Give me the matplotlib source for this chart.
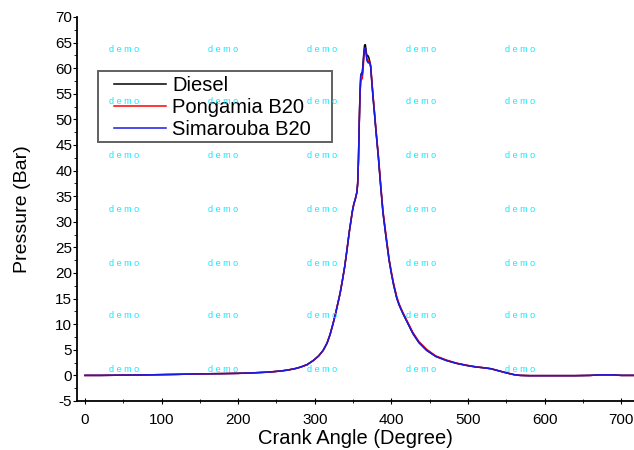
import matplotlib
matplotlib.use("Agg")
import matplotlib.pyplot as plt
from matplotlib.patches import Rectangle
from matplotlib.ticker import MultipleLocator

plt.rcParams['font.family'] = ['Liberation Sans', 'DejaVu Sans']
plt.rcParams['axes.unicode_minus'] = False

# Crank angle (degree) samples shared by all three fuels
crank_angle = [0, 20, 50, 80, 100, 120, 150, 180, 200, 220, 240, 255, 265, 275,
               281, 290, 298, 305, 311, 316, 320, 324, 327, 330, 333, 336, 339,
               342, 345, 347, 349, 351, 353, 355, 356, 357, 358, 359, 360, 361,
               362, 363, 364, 365, 366, 367, 368, 369, 370, 371, 372, 373, 374,
               376, 378, 380, 383, 386, 389, 393, 397, 400, 403, 407, 410, 415,
               420, 428, 436, 446, 458, 472, 485, 498, 510, 520, 530, 540, 550,
               560, 568, 580, 600, 640, 660, 670, 690, 700, 720]

# Cylinder pressure (bar)
diesel = [0.0, 0.0, 0.05, 0.1, 0.15, 0.2, 0.3, 0.35, 0.4, 0.5, 0.65, 0.85, 1.05, 1.35,
          1.6, 2.1, 2.9, 3.8, 4.9, 6.3, 8.0, 10.2, 12.0, 14.0, 16.0, 18.5, 21.2,
          24.5, 28.0, 30.0, 32.0, 33.5, 34.5, 35.8, 37.5, 42.0, 49.0, 55.0, 58.5, 59.0,
          59.2, 61.0, 63.0, 64.5, 64.6, 63.5, 62.3, 62.5, 62.3, 61.8, 61.2, 60.2, 58.2,
          54.4, 51.0, 47.5, 42.6, 37.0, 31.8, 27.0, 22.5, 19.9, 17.6, 15.1, 13.8, 12.1,
          10.6, 8.2, 6.4, 4.9, 3.7, 2.9, 2.35, 1.95, 1.65, 1.5, 1.3, 0.9, 0.5,
          0.15, 0.0, -0.05, -0.05, -0.05, 0.0, 0.1, 0.1, 0.0, 0.0]

pongamia = [0.0, 0.0, 0.05, 0.1, 0.15, 0.2, 0.3, 0.35, 0.4, 0.5, 0.65, 0.85, 1.05, 1.35,
            1.6, 2.1, 2.9, 3.8, 4.9, 6.3, 8.0, 10.2, 12.0, 14.0, 16.0, 18.5, 21.2,
            24.5, 28.0, 30.0, 32.0, 33.5, 34.5, 35.8, 37.5, 42.0, 49.0, 54.5, 57.5, 57.8,
            58.0, 59.5, 62.0, 63.5, 63.8, 63.0, 62.0, 61.5, 61.3, 61.4, 61.2, 60.5, 58.5,
            54.8, 51.4, 47.9, 43.0, 37.4, 32.2, 27.4, 22.8, 20.2, 17.9, 15.4, 14.0, 12.3,
            10.8, 8.4, 6.6, 5.1, 3.8, 3.0, 2.4, 2.0, 1.7, 1.5, 1.3, 0.9, 0.5,
            0.15, 0.0, -0.05, -0.05, -0.05, 0.0, 0.1, 0.1, 0.0, 0.0]

simarouba = [0.0, 0.0, 0.05, 0.1, 0.15, 0.2, 0.3, 0.35, 0.4, 0.5, 0.65, 0.85, 1.05, 1.35,
             1.6, 2.1, 2.9, 3.8, 4.9, 6.3, 8.0, 10.2, 12.0, 14.0, 16.0, 18.5, 21.2,
             24.5, 28.0, 30.0, 32.0, 33.5, 34.5, 35.8, 37.5, 42.0, 49.0, 55.0, 58.5, 59.0,
             58.8, 60.5, 62.5, 63.8, 64.0, 62.8, 61.5, 61.2, 61.0, 61.2, 61.0, 60.2, 58.2,
             54.4, 51.0, 47.5, 42.6, 37.0, 31.8, 27.0, 22.5, 19.9, 17.6, 15.1, 13.8, 12.1,
             10.6, 8.2, 6.4, 4.9, 3.7, 2.9, 2.35, 1.95, 1.65, 1.5, 1.3, 0.9, 0.5,
             0.15, 0.0, -0.05, -0.05, -0.05, 0.0, 0.1, 0.1, 0.0, 0.0]

series_names = ["Diesel", "Pongamia B20", "Simarouba B20"]
series_colors = ["black", "red", "#1a1ae6"]

x_ticks = [0, 100, 200, 300, 400, 500, 600, 700]
y_ticks = [-5, 0, 5, 10, 15, 20, 25, 30, 35, 40, 45, 50, 55, 60, 65, 70]

fig = plt.figure(figsize=(6.34, 4.5), dpi=100)
W, H = 634, 450
ax = fig.add_axes([77 / W, 49 / H, (W - 77) / W, 384 / H])

for values, name, color in zip([diesel, pongamia, simarouba], series_names, series_colors):
    ax.plot(crank_angle, values, color=color, lw=1.1, label=name)

ax.set_xlim(-10.4, 716.7)
ax.set_ylim(-5, 70)
ax.set_xticks(x_ticks)
ax.set_yticks(y_ticks)
ax.xaxis.set_minor_locator(MultipleLocator(50))
ax.yaxis.set_minor_locator(MultipleLocator(2.5))

for side in ("top", "right"):
    ax.spines[side].set_visible(False)
for side in ("left", "bottom"):
    ax.spines[side].set_linewidth(1.3)

ax.tick_params(axis="x", which="major", direction="inout", length=4, width=0.8,
               labelsize=11, pad=7)
ax.tick_params(axis="x", which="minor", direction="inout", length=3, width=0.6)
ax.tick_params(axis="y", which="major", direction="out", length=3, width=0.8,
               labelsize=11, pad=0.5)
ax.tick_params(axis="y", which="minor", direction="out", length=2, width=0.6)

ax.set_xlabel("Crank Angle (Degree)", fontsize=14.5, labelpad=1)
ax.set_ylabel("Pressure (Bar)", fontsize=14)
ax.yaxis.set_label_coords(-0.083, 0.5)

# Legend frame drawn as its own rectangle so the box size can be set exactly
box_x0, box_x1 = (97.7 - 77) / 557, (331.7 - 77) / 557
box_y0, box_y1 = (401 - 141.7) / 384, (401 - 71) / 384
ax.add_patch(Rectangle((box_x0, box_y0), box_x1 - box_x0, box_y1 - box_y0,
                       transform=ax.transAxes, facecolor="white",
                       edgecolor="#606060", lw=1.4, zorder=4))
leg = ax.legend(loc="upper left", bbox_to_anchor=((114 - 77) / 557, (401 - 76) / 384),
                frameon=False, fontsize=14.5, borderpad=0, borderaxespad=0,
                handlelength=2.6, handletextpad=0.3, labelspacing=0.16)
leg.set_zorder(5)

# Repeating "demo" marks across the figure
for yc in [49, 102, 155, 210, 263, 316, 369]:
    for xc in [124, 223, 322, 421, 520]:
        fig.text(xc / W, 1 - yc / H, "d e m o", color="#10E8FF", fontsize=6.5,
                 ha="center", va="center", zorder=10)

fig.savefig("out.png", dpi=100)
